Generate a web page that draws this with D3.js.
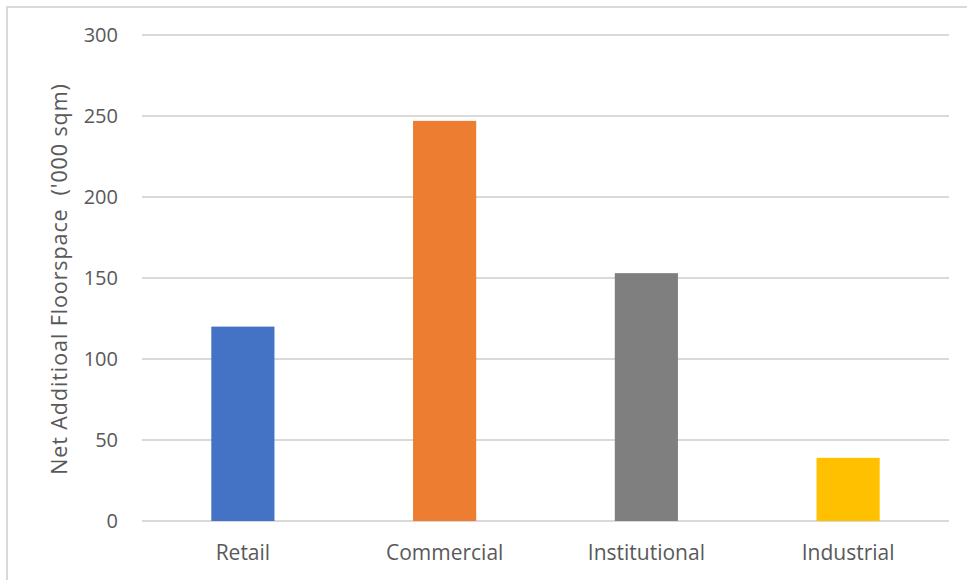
<!DOCTYPE html>
<html>
<head>
<meta charset="utf-8">
<script src="https://cdn.jsdelivr.net/npm/d3@7"></script>
<style>
  html, body { margin: 0; padding: 0; background: #fff; }
  svg { display: block; }
  text { font-family: "Open Sans", "Noto Sans", sans-serif; fill: #595959; }
</style>
</head>
<body>
<script>
const categories = ["Retail", "Commercial", "Institutional", "Industrial"];
const values = [120, 247, 153, 39];
const colors = ["#4472C4", "#ED7D31", "#7F7F7F", "#FFC000"];
const yTicks = [0, 50, 100, 150, 200, 250, 300];
const yLabel = "Net Additioal Floorspace  ('000 sqm)";

const W = 967, H = 580;
const plot = { left: 142, right: 949, top: 35, bottom: 521 };

const svg = d3.select("body").append("svg").attr("width", W).attr("height", H);

// chart border (top and left visible)
svg.append("rect")
  .attr("x", 7).attr("y", 7)
  .attr("width", W + 20).attr("height", H + 20)
  .attr("fill", "none").attr("stroke", "#D9D9D9").attr("stroke-width", 2);

const x = d3.scaleBand().domain(categories)
  .range([plot.left, plot.right])
  .paddingInner(0.687).paddingOuter(0.3435);
const y = d3.scaleLinear().domain([0, 300]).range([plot.bottom, plot.top]);

// gridlines
svg.append("g").selectAll("line").data(yTicks).join("line")
  .attr("x1", plot.left).attr("x2", plot.right)
  .attr("y1", d => y(d)).attr("y2", d => y(d))
  .attr("stroke", "#D9D9D9").attr("stroke-width", 2);

// y axis labels
const yAxis = d3.axisLeft(y).tickValues(yTicks).tickSize(0).tickPadding(0);
const gy = svg.append("g").attr("transform", `translate(118,0)`).call(yAxis);
gy.select(".domain").remove();
gy.selectAll("text").style("font-size", "20px").attr("fill", "#595959")
  .style("font-family", "'Open Sans', sans-serif");

// bars
svg.append("g").selectAll("rect").data(categories).join("rect")
  .attr("x", d => x(d))
  .attr("width", x.bandwidth())
  .attr("y", (d, i) => y(values[i]))
  .attr("height", (d, i) => y(0) - y(values[i]))
  .attr("fill", (d, i) => colors[i]);

// x axis labels
const xAxis = d3.axisBottom(x).tickSize(0).tickPadding(0);
const gx = svg.append("g").attr("transform", `translate(0,545)`).call(xAxis);
gx.select(".domain").remove();
gx.selectAll("text").style("font-size", "21px").attr("fill", "#595959")
  .attr("dy", "0.71em")
  .style("font-family", "'Open Sans', sans-serif");

// y title
svg.append("text")
  .attr("transform", `translate(67,279) rotate(-90)`)
  .attr("text-anchor", "middle")
  .style("font-size", "21.5px")
  .style("letter-spacing", "0.9px")
  .style("white-space", "pre")
  .attr("xml:space", "preserve")
  .text(yLabel);
</script>
</body>
</html>
